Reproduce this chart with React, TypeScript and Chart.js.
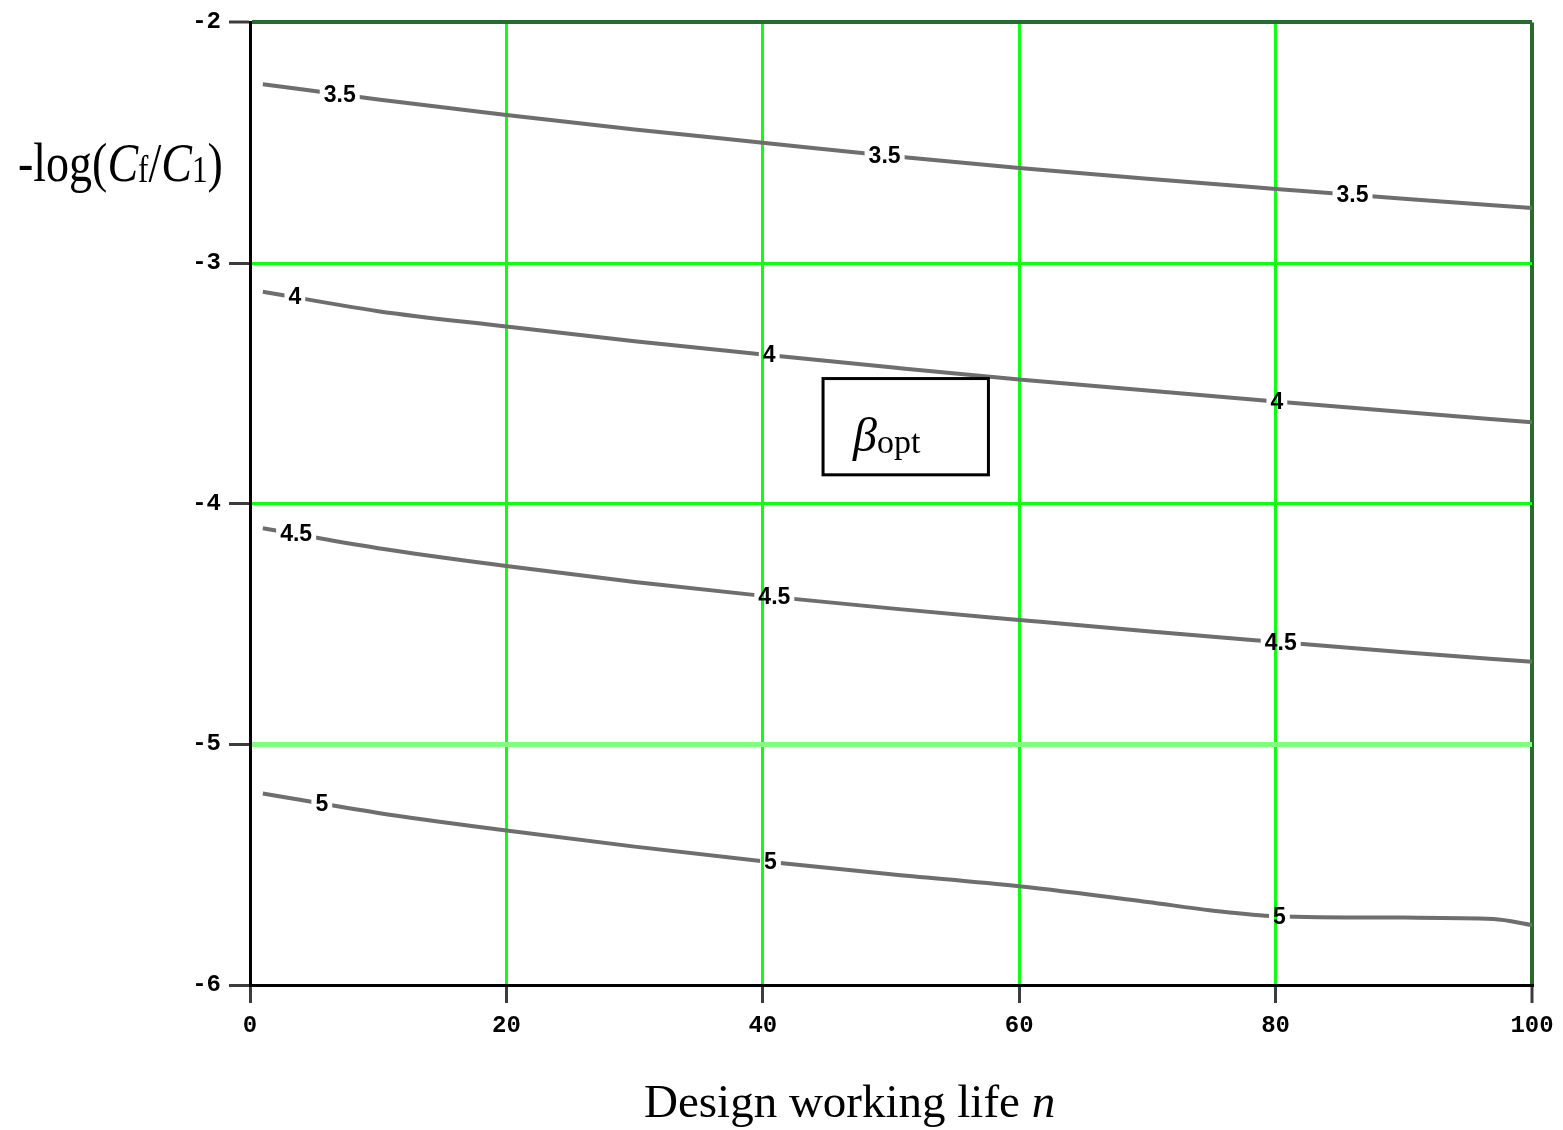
import { useEffect, useRef } from "react";
import { Chart, registerables } from "chart.js";

Chart.register(...registerables);

// Design working life n (years) at which each contour is sampled
const lifeYears = [1, 10, 20, 30, 40, 50, 60, 70, 80, 90, 100];
const lifeYearsBeta5 = [1, 10, 20, 30, 40, 50, 60, 70, 75, 80, 90, 97, 100];

// -log(Cf/C1) along each iso-beta contour
const beta35 = [-2.257, -2.32, -2.385, -2.445, -2.5, -2.555, -2.605, -2.65, -2.692, -2.733, -2.771];
const beta40 = [-3.119, -3.2, -3.264, -3.325, -3.38, -3.433, -3.484, -3.53, -3.575, -3.619, -3.662];
const beta45 = [-4.102, -4.185, -4.259, -4.325, -4.383, -4.435, -4.483, -4.53, -4.574, -4.617, -4.657];
const beta50 = [-5.204, -5.285, -5.358, -5.425, -5.486, -5.54, -5.59, -5.655, -5.69, -5.714, -5.72, -5.726, -5.751];

const contourLevels = ["3.5", "4", "4.5", "5"];
// n positions where each contour carries its level label
const labelYears35 = [7, 49.5, 86];
const labelYears40 = [3.5, 40.5, 80.1];
const labelYears45 = [3.6, 40.9, 80.4];
const labelYears50 = [5.6, 40.6, 80.3];

// Axis ticks
const xTicks = [0, 20, 40, 60, 80, 100];
const yTicks = [-6, -5, -4, -3, -2];

// Annotation box corners in data units
const boxYears = [44.7, 57.6];
const boxLogRatio = [-3.48, -3.88];

const contourSeries = [
  { years: lifeYears, values: beta35, labelYears: labelYears35 },
  { years: lifeYears, values: beta40, labelYears: labelYears40 },
  { years: lifeYears, values: beta45, labelYears: labelYears45 },
  { years: lifeYearsBeta5, values: beta50, labelYears: labelYears50 },
];

const LABEL_FONT = "bold 23px 'Liberation Sans'";
const TICK_FONT_FAMILY = "'Liberation Mono'";
const SERIF = "'Liberation Serif', 'Times New Roman', serif";

function interp(xs: number[], ys: number[], x: number) {
  for (let i = 0; i < xs.length - 1; i++) {
    if (x >= xs[i] && x <= xs[i + 1]) {
      const t = (x - xs[i]) / (xs[i + 1] - xs[i]);
      return ys[i] + t * (ys[i + 1] - ys[i]);
    }
  }
  return x < xs[0] ? ys[0] : ys[ys.length - 1];
}

type LabelBox = { text: string; cx: number; cy: number; x: number; y: number; w: number; h: number };

function labelBoxes(chart: any): LabelBox[] {
  const { ctx, scales } = chart;
  const out: LabelBox[] = [];
  ctx.save();
  ctx.font = LABEL_FONT;
  contourSeries.forEach((s, i) => {
    const text = contourLevels[i];
    const w = ctx.measureText(text).width + 8;
    s.labelYears.forEach((n) => {
      const cx = scales.x.getPixelForValue(n);
      const cy = scales.y.getPixelForValue(interp(s.years, s.values, n));
      out.push({ text, cx, cy, x: cx - w / 2, y: cy - 12, w, h: 24 });
    });
  });
  ctx.restore();
  return out;
}

const contourLabelPlugin = {
  id: "contourLabels",
  beforeDatasetsDraw(chart: any) {
    const { ctx, chartArea: a } = chart;
    const boxes = labelBoxes(chart);
    ctx.save();
    ctx.beginPath();
    ctx.rect(a.left - 10, a.top - 10, a.right - a.left + 20, a.bottom - a.top + 20);
    boxes.forEach((b) => ctx.rect(b.x, b.y, b.w, b.h));
    ctx.clip("evenodd");
  },
  afterDatasetsDraw(chart: any) {
    const { ctx } = chart;
    ctx.restore();
    const boxes = labelBoxes(chart);
    ctx.save();
    ctx.font = LABEL_FONT;
    ctx.fillStyle = "#000";
    ctx.textAlign = "center";
    ctx.textBaseline = "middle";
    boxes.forEach((b) => ctx.fillText(b.text, b.cx, b.cy + 1));
    ctx.restore();
  },
};

function drawRuns(ctx: CanvasRenderingContext2D, x: number, y: number, runs: { t: string; font: string; dy?: number }[]) {
  let cx = x;
  runs.forEach((r) => {
    ctx.font = r.font;
    ctx.fillText(r.t, cx, y + (r.dy || 0));
    cx += ctx.measureText(r.t).width;
  });
  return cx;
}

const titlesPlugin = {
  id: "titlesAndBox",
  afterDraw(chart: any) {
    const { ctx, scales } = chart;
    ctx.save();
    ctx.fillStyle = "#000";
    ctx.textBaseline = "alphabetic";
    ctx.textAlign = "left";

    // Vertical-axis title, upper left
    ctx.save();
    ctx.translate(18, 181);
    ctx.scale(1, 1.2);
    drawRuns(ctx, 0, 0, [
      { t: "-log(", font: `46px ${SERIF}` },
      { t: "C", font: `italic 46px ${SERIF}` },
      { t: "f", font: `31px ${SERIF}`, dy: 1 },
      { t: "/", font: `46px ${SERIF}` },
      { t: "C", font: `italic 46px ${SERIF}` },
      { t: "1", font: `31px ${SERIF}`, dy: 1 },
      { t: ")", font: `46px ${SERIF}` },
    ]);
    ctx.restore();

    // Horizontal-axis title
    drawRuns(ctx, 644, 1117, [
      { t: "Design working life ", font: `47px ${SERIF}` },
      { t: "n", font: `italic 47px ${SERIF}` },
    ]);

    // beta_opt annotation box
    const bx1 = scales.x.getPixelForValue(boxYears[0]);
    const bx2 = scales.x.getPixelForValue(boxYears[1]);
    const by1 = scales.y.getPixelForValue(boxLogRatio[0]);
    const by2 = scales.y.getPixelForValue(boxLogRatio[1]);
    ctx.fillStyle = "#fff";
    ctx.fillRect(bx1, by1, bx2 - bx1, by2 - by1);
    ctx.strokeStyle = "#000";
    ctx.lineWidth = 3;
    ctx.strokeRect(bx1, by1, bx2 - bx1, by2 - by1);
    ctx.fillStyle = "#000";
    drawRuns(ctx, bx1 + 30, by1 + 72, [
      { t: "\u03b2", font: `italic 48px ${SERIF}` },
      { t: "opt", font: `34px ${SERIF}`, dy: 2 },
    ]);
    ctx.restore();
  },
};

function xGridColor(v: number) {
  if (v === 0) return "#c4dcc4";
  if (v === 100) return "#2a6a2a";
  return "#10ff10";
}
function yGridColor(v: number) {
  if (v === -2) return "#2a6a2a";
  if (v === -5) return "#80ff80";
  if (v === -6) return "#8fa88f";
  return "#10ff10";
}

export default function App() {
  const ref = useRef<HTMLCanvasElement>(null);

  useEffect(() => {
    if (!ref.current) return;
    const chart = new Chart(ref.current, {
      type: "line",
      data: {
        datasets: contourSeries.map((s, i) => ({
          label: contourLevels[i],
          data: s.years.map((n, j) => ({ x: n, y: s.values[j] })),
          borderColor: "#6e6e6e",
          borderWidth: 4,
          pointRadius: 0,
          fill: false,
          cubicInterpolationMode: "monotone" as const,
        })),
      },
      options: {
        responsive: false,
        animation: false,
        devicePixelRatio: 1,
        layout: { padding: { top: 20, right: 31, bottom: 0, left: 0 } },
        plugins: { legend: { display: false }, tooltip: { enabled: false } },
        scales: {
          x: {
            type: "linear",
            min: 0,
            max: 100,
            afterFit: (s: any) => {
              s.height = 145;
            },
            afterBuildTicks: (s: any) => {
              s.ticks = xTicks.map((v) => ({ value: v }));
            },
            ticks: {
              color: "#000",
              font: { family: TICK_FONT_FAMILY, size: 24, weight: "bold" },
              padding: 9,
              maxRotation: 0,
              callback: (v: any) => String(v),
            },
            grid: {
              color: (c: any) => xGridColor(c.tick?.value),
              lineWidth: (c: any) => (c.tick?.value === 100 ? 4 : 3),
              tickColor: "#3c3c3c",
              tickLength: 18,
              tickWidth: 3,
            },
            border: { color: "#000", width: 3 },
          },
          y: {
            type: "linear",
            min: -6,
            max: -2,
            afterFit: (s: any) => {
              s.width = 250;
            },
            afterBuildTicks: (s: any) => {
              s.ticks = yTicks.map((v) => ({ value: v }));
            },
            ticks: {
              color: "#000",
              font: { family: TICK_FONT_FAMILY, size: 24, weight: "bold" },
              padding: 8,
              callback: (v: any) => String(v),
            },
            grid: {
              color: (c: any) => yGridColor(c.tick?.value),
              lineWidth: (c: any) => (c.tick?.value === -5 ? 5 : c.tick?.value === -2 ? 4 : 3),
              tickColor: "#3c3c3c",
              tickLength: 21,
              tickWidth: 3,
            },
            border: { color: "#000", width: 3 },
          },
        },
      },
      plugins: [contourLabelPlugin, titlesPlugin],
    });
    return () => chart.destroy();
  }, []);

  return (
    <div style={{ position: "absolute", left: 0, top: 0, width: 1563, height: 1130, background: "#fff" }}>
      <canvas ref={ref} width={1563} height={1130} style={{ display: "block", width: 1563, height: 1130 }} />
    </div>
  );
}
